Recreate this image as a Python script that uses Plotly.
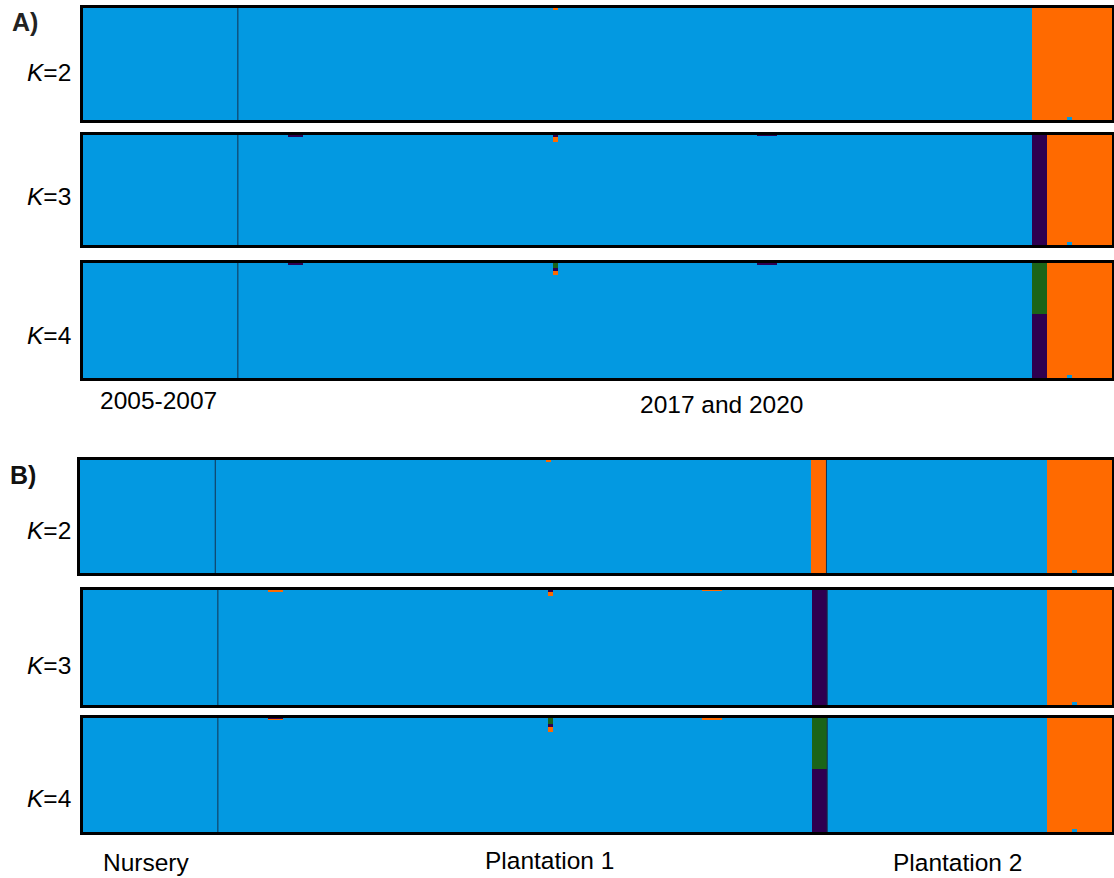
import plotly.graph_objects as go

W, H = 1114, 878

# ---------------- data ----------------
# cluster colours (bottom -> top in each bar)
cluster_colors = ["#0399E1", "#FF6A00", "#2E0050", "#1B6418"]

# Panel A: sampling groups and individuals
A_groups = ["2005-2007", "2017 and 2020"]
A_sizes = [31, 175]
A_run_counts = [31, 10, 3, 50, 1, 40, 4, 51, 3, 4, 1, 8]
A_K2 = [[1, 0], [1, 0], [1, 0], [1, 0], [0.99, 0.01], [1, 0], [1, 0], [1, 0],
        [0, 1], [0, 1], [0.03, 0.97], [0, 1]]
A_K3 = [[1, 0, 0], [1, 0, 0], [0.99, 0, 0.01], [1, 0, 0], [0.94, 0.04, 0.02],
        [1, 0, 0], [0.995, 0, 0.005], [1, 0, 0],
        [0, 0, 1], [0, 1, 0], [0.03, 0.97, 0], [0, 1, 0]]
A_K4 = [[1, 0, 0, 0], [1, 0, 0, 0], [0.985, 0.005, 0.01, 0], [1, 0, 0, 0],
        [0.90, 0.03, 0.03, 0.04], [1, 0, 0, 0], [0.99, 0, 0.01, 0], [1, 0, 0, 0],
        [0, 0, 0.56, 0.44], [0, 1, 0, 0], [0.03, 0.97, 0, 0], [0, 1, 0, 0]]

# Panel B: sampling groups and individuals
B_groups = ["Nursery", "Plantation 1", "Plantation 2"]
B_sizes = [27, 122, 57]
B_run_counts = [27, 10, 3, 53, 1, 30, 4, 18, 3, 44, 5, 1, 7]
B_K2 = [[1, 0], [1, 0], [1, 0], [1, 0], [0.99, 0.01], [1, 0], [1, 0], [1, 0],
        [0, 1], [1, 0], [0, 1], [0.03, 0.97], [0, 1]]
B_K3 = [[1, 0, 0], [1, 0, 0], [0.99, 0.01, 0], [1, 0, 0], [0.95, 0.03, 0.02],
        [1, 0, 0], [0.995, 0.005, 0], [1, 0, 0],
        [0, 0, 1], [1, 0, 0], [0, 1, 0], [0.03, 0.97, 0], [0, 1, 0]]
B_K4 = [[1, 0, 0, 0], [1, 0, 0, 0], [0.985, 0.01, 0.005, 0], [1, 0, 0, 0],
        [0.88, 0.04, 0.03, 0.05], [1, 0, 0, 0], [0.99, 0.01, 0, 0], [1, 0, 0, 0],
        [0, 0, 0.55, 0.45], [1, 0, 0, 0], [0, 1, 0, 0], [0.03, 0.97, 0, 0], [0, 1, 0, 0]]

# ---------------- layout helpers ----------------
def fx(p):
    return p / W

def fy(p):
    return 1 - p / H

def expand(counts, q):
    rows = []
    for c, r in zip(counts, q):
        rows.extend([r] * c)
    return rows

panels = [
    # (label, xpx, ypx, counts, q, sizes, label_y)
    ("K=2", (83, 1112), (8, 120), A_run_counts, A_K2, A_sizes, 72),
    ("K=3", (83, 1112), (135, 245), A_run_counts, A_K3, A_sizes, 197),
    ("K=4", (83, 1112), (263, 378), A_run_counts, A_K4, A_sizes, 335),
    ("K=2", (80, 1112), (460, 573), B_run_counts, B_K2, B_sizes, 530),
    ("K=3", (83, 1112), (590, 705), B_run_counts, B_K3, B_sizes, 665),
    ("K=4", (83, 1112), (718, 832), B_run_counts, B_K4, B_sizes, 798),
]

fig = go.Figure()
layout = {}
shapes = []
annotations = []
FONT = "Arial, Liberation Sans, Helvetica, sans-serif"

for i, (klabel, xpx, ypx, counts, q, sizes, ly) in enumerate(panels):
    idx = "" if i == 0 else str(i + 1)
    xa, ya = "x" + idx, "y" + idx
    rows = expand(counts, q)
    n = len(rows)
    k = len(rows[0])
    xs = list(range(n))
    for c in range(k):
        fig.add_trace(go.Bar(
            x=xs, y=[r[c] for r in rows], width=1.0,
            marker=dict(color=cluster_colors[c], line=dict(width=0)),
            xaxis=xa, yaxis=ya, showlegend=False, hoverinfo="skip"))
    common = dict(showgrid=False, zeroline=False, showticklabels=False, ticks="",
                  showline=True, mirror=True, linewidth=3, linecolor="black")
    layout["xaxis" + idx] = dict(domain=[fx(xpx[0]), fx(xpx[1])], range=[-0.5, n - 0.5],
                                 anchor=ya, **common)
    layout["yaxis" + idx] = dict(domain=[fy(ypx[1]), fy(ypx[0])], range=[0, 1],
                                 anchor=xa, **common)
    # group separators
    cum = 0
    for s in sizes[:-1]:
        cum += s
        shapes.append(dict(type="line", xref=xa, yref=ya + " domain",
                           x0=cum - 0.5, x1=cum - 0.5, y0=0, y1=1,
                           line=dict(color="#14324f", width=1)))
    # K label
    kk = klabel.split("=")[1]
    annotations.append(dict(text="<i>K</i>=" + kk, x=fx(73), y=fy(ly), xref="paper", yref="paper",
                            xanchor="right", yanchor="middle", showarrow=False,
                            font=dict(family=FONT, size=24.5, color="black")))

# panel letters
annotations.append(dict(text="<b>A)</b>", x=fx(10), y=fy(22), xref="paper", yref="paper",
                        xanchor="left", yanchor="middle", showarrow=False,
                        font=dict(family=FONT, size=25, color="#222")))
annotations.append(dict(text="<b>B)</b>", x=fx(8), y=fy(475), xref="paper", yref="paper",
                        xanchor="left", yanchor="middle", showarrow=False,
                        font=dict(family=FONT, size=25, color="#111")))

# group labels
A_label_pos = [(158, 400), (722, 405)]
B_label_pos = [(146, 862), (549, 860), (957, 862)]
for g, (px, py) in zip(A_groups, A_label_pos):
    annotations.append(dict(text=g, x=fx(px), y=fy(py), xref="paper", yref="paper",
                            xanchor="center", yanchor="middle", showarrow=False,
                            font=dict(family=FONT, size=24.5, color="black")))
for g, (px, py) in zip(B_groups, B_label_pos):
    annotations.append(dict(text=g, x=fx(px), y=fy(py), xref="paper", yref="paper",
                            xanchor="center", yanchor="middle", showarrow=False,
                            font=dict(family=FONT, size=24.5, color="black")))

fig.update_layout(width=W, height=H, margin=dict(l=0, r=0, t=0, b=0),
                  paper_bgcolor="white", plot_bgcolor="white",
                  barmode="stack", bargap=0, showlegend=False,
                  shapes=shapes, annotations=annotations, **layout)

fig.write_html("out.html")
